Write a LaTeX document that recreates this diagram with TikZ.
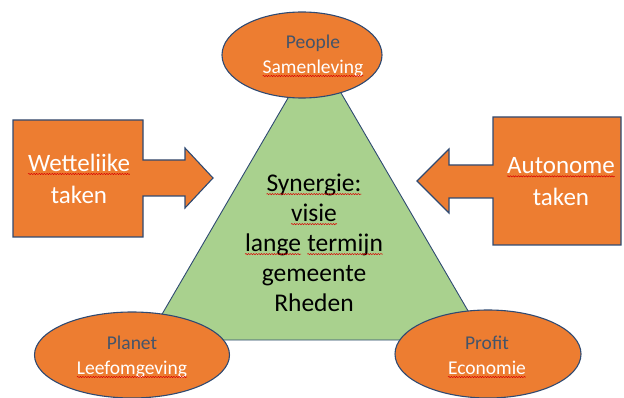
\documentclass[tikz,border=0pt]{standalone}
\usepackage{fontspec}
\setmainfont{Carlito}
\usetikzlibrary{shapes.geometric,decorations.pathmorphing}
\definecolor{orng}{HTML}{ED7D31}
\definecolor{edgeblue}{HTML}{2F4A72}
\definecolor{grn}{HTML}{A9D18E}
\definecolor{lbl}{HTML}{44546A}
\newcommand{\sqw}[2]{\tikz[baseline=(sqword.base)]{\node[inner sep=0pt,outer sep=0pt,text=#1,anchor=base] (sqword) at (0,0) {#2};
  \draw[red!85!black, line width=0.5pt, decorate, decoration={snake,amplitude=0.6pt,segment length=2.6pt}] ([yshift=-2.4pt]sqword.base west) -- ([yshift=-2.4pt]sqword.base east);}}
\tikzset{
  orangeshape/.style={draw=edgeblue, fill=orng, line width=1.1pt},
  ovalbox/.style={ellipse, orangeshape, inner sep=0pt},
  ovaltext/.style={align=center, font=\fontsize{19.5}{25}\selectfont, inner sep=0pt},
  arrowtext/.style={align=center, text=white, font=\fontsize{25}{32}\selectfont, inner sep=0pt},
  centertext/.style={align=center, font=\fontsize{25.5}{30}\selectfont, inner sep=0pt}
}
\begin{document}
\begin{tikzpicture}[x=1pt,y=-1pt]
\useasboundingbox (0,0) rectangle (624,398);
% triangle
\draw[fill=grn, draw=edgeblue, line width=0.9pt] (316,50) -- (147,340) -- (485,340) -- cycle;
\node[centertext] (syn) at (314,243) {\sqw{black}{Synergie:}\\ \sqw{black}{visie}\\ \sqw{black}{lange} \sqw{black}{termijn}\\ gemeente\\ Rheden};
% ellipses
\node[ovalbox, minimum width=160pt, minimum height=86pt] (people) at (302,55) {};
\node[ovaltext] (peopletxt) at (313,56) {\textcolor{lbl}{People}\\ \sqw{white}{Samenleving}};
\node[ovalbox, minimum width=195pt, minimum height=86pt] (planet) at (132,355) {};
\node[ovaltext] (planettxt) at (132,357) {\textcolor{lbl}{Planet}\\ \sqw{white}{Leefomgeving}};
\node[ovalbox, minimum width=186pt, minimum height=88pt] (profit) at (488,354) {};
\node[ovaltext] (profittxt) at (487,357) {\textcolor{lbl}{Profit}\\ \sqw{white}{Economie}};
% arrow callouts
\draw[orangeshape] (13,120) -- (143,120) -- (143,160) -- (185,160) -- (185,148) -- (213,178) -- (185,208) -- (185,196) -- (143,196) -- (143,237) -- (13,237) -- cycle;
\node[arrowtext] (wet) at (79,179) {\sqw{white}{Wetteliike}\\ taken};
\draw[orangeshape] (493,117) -- (621,117) -- (621,245) -- (493,245) -- (493,198) -- (449,198) -- (449,213) -- (417,181) -- (449,149) -- (449,165) -- (493,165) -- cycle;
\node[arrowtext] (aut) at (561,182) {\sqw{white}{Autonome}\\ taken};
\end{tikzpicture}
\end{document}
